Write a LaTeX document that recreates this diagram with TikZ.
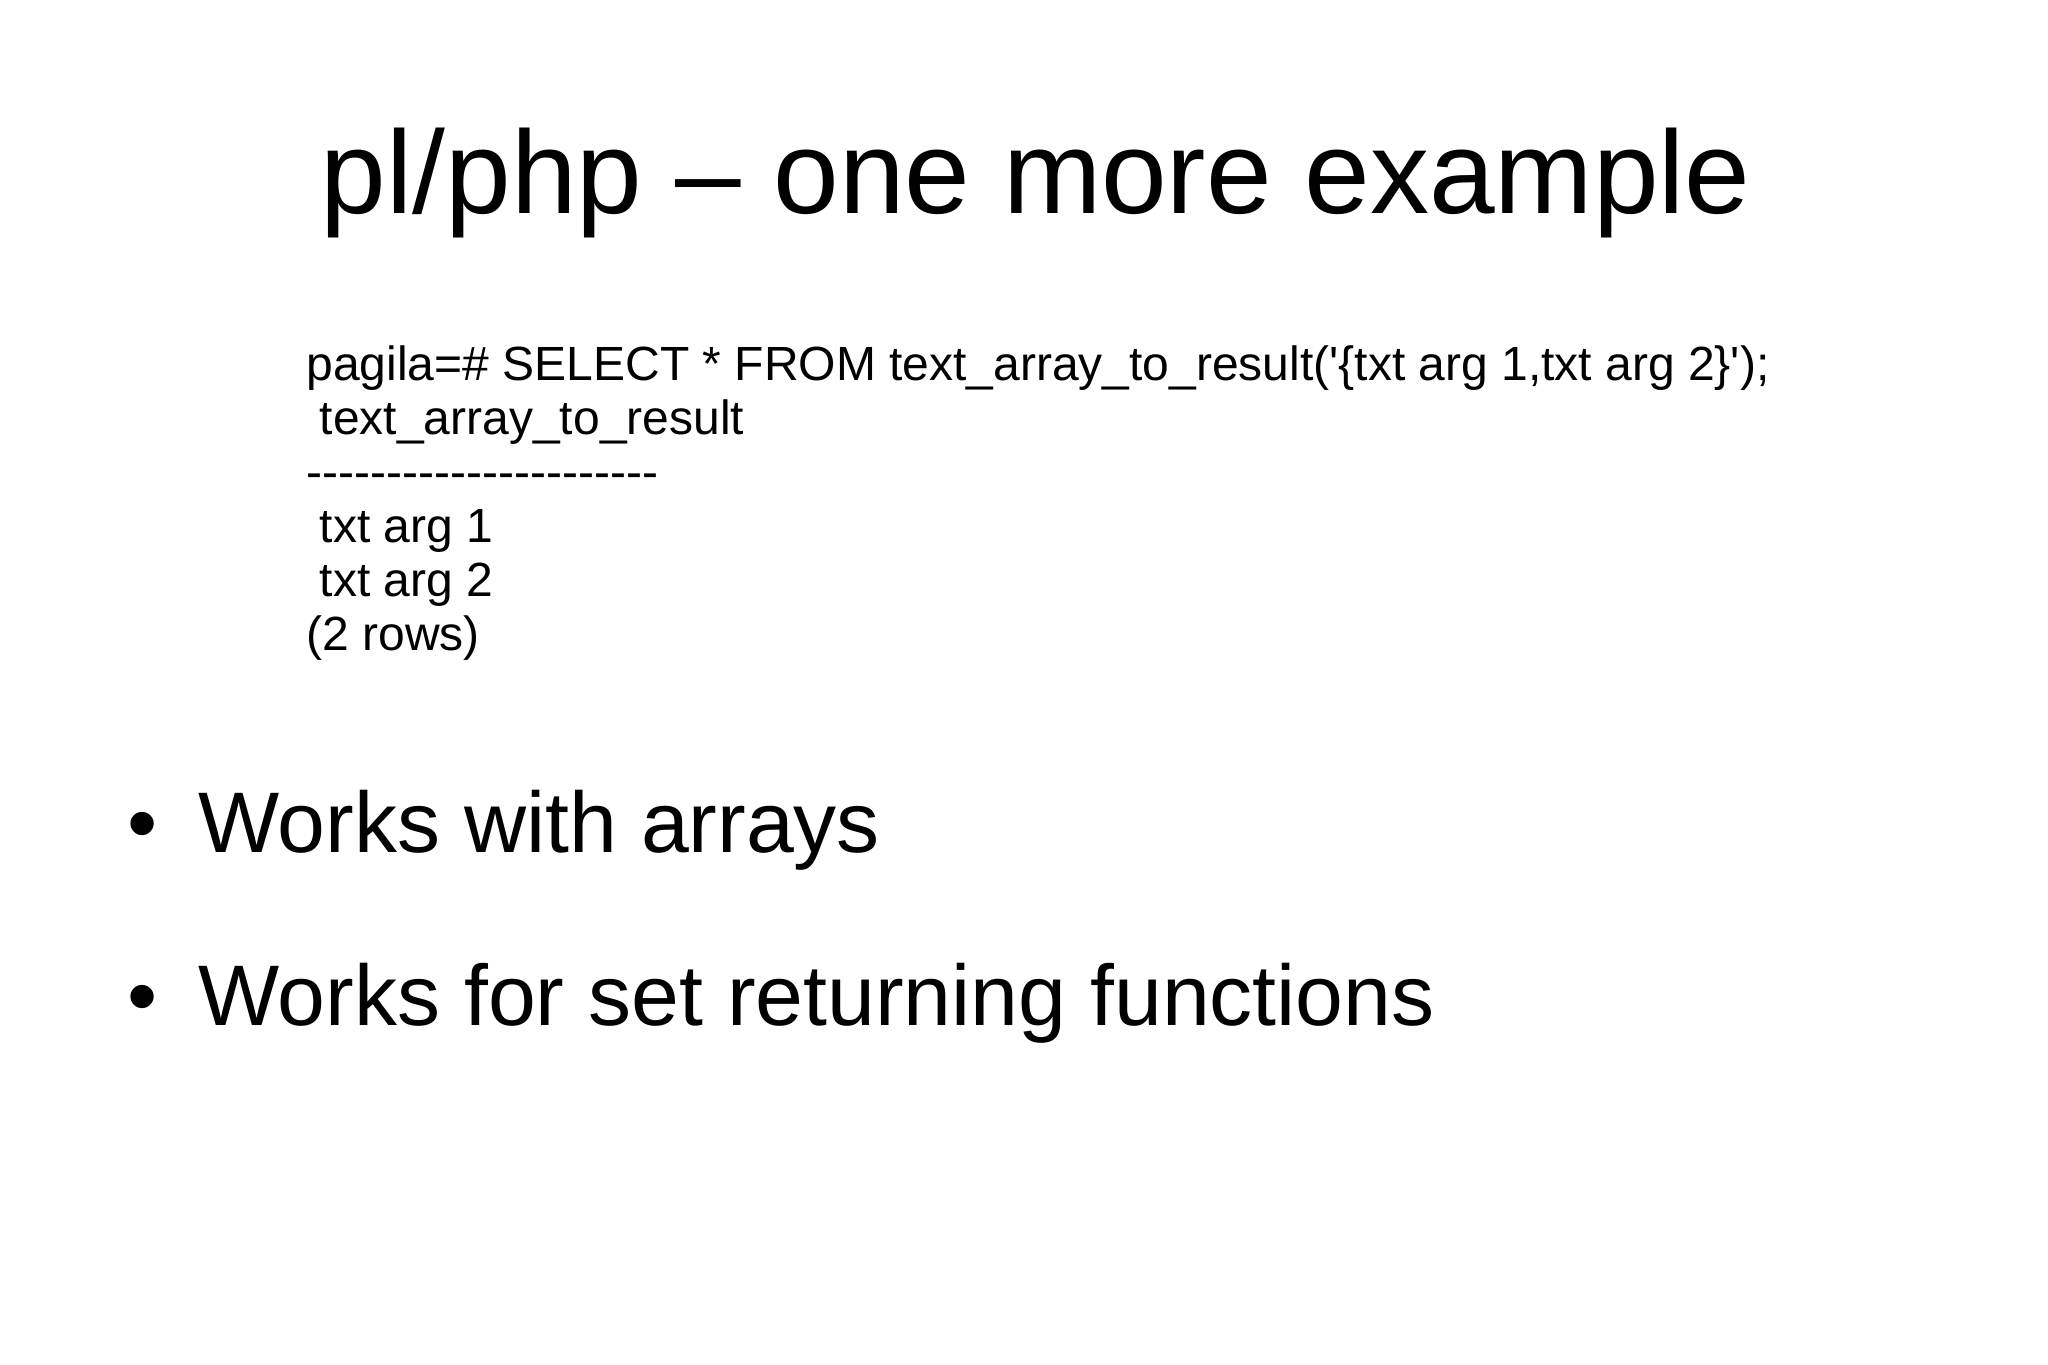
\documentclass[tikz,border=0pt]{standalone}
\usepackage{fontspec}
\setmainfont{Liberation Sans}
\newfontfamily\codefont{Liberation Sans}
\begin{document}
\begin{tikzpicture}[x=0.6598pt,y=-0.6598pt,
  code/.style={anchor=base west,inner sep=0pt,font=\codefont\fontsize{24}{30}\selectfont},
  bul/.style={anchor=base west,inner sep=0pt,font=\fontsize{43}{54}\selectfont}]
\fill[white] (0,0) rectangle (1552,1034);
\useasboundingbox (0,0) rectangle (1552,1034);
\node[anchor=base,inner sep=0pt,font=\fontsize{59}{70}\selectfont] (title) at (785,162) {pl/php -- one more example};
\node[code] (l1) at (232,288) {pagila=\# SELECT * FROM text\_array\_to\_result('\{txt arg 1,txt arg 2\}');};
\node[code] (l2) at (232,329) {\ text\_array\_to\_result};
\node[code] (l3) at (232,370) {----------------------};
\node[code] (l4) at (232,411) {\ txt arg 1};
\node[code] (l5) at (232,452) {\ txt arg 2};
\node[code] (l6) at (232,493) {(2 rows)};
\node[bul] (b1d) at (96,646) {•};
\node[bul] (b1) at (150,646) {Works with arrays};
\node[bul] (b2d) at (96,777) {•};
\node[bul] (b2) at (150,777) {Works for set returning functions};
\end{tikzpicture}
\end{document}
